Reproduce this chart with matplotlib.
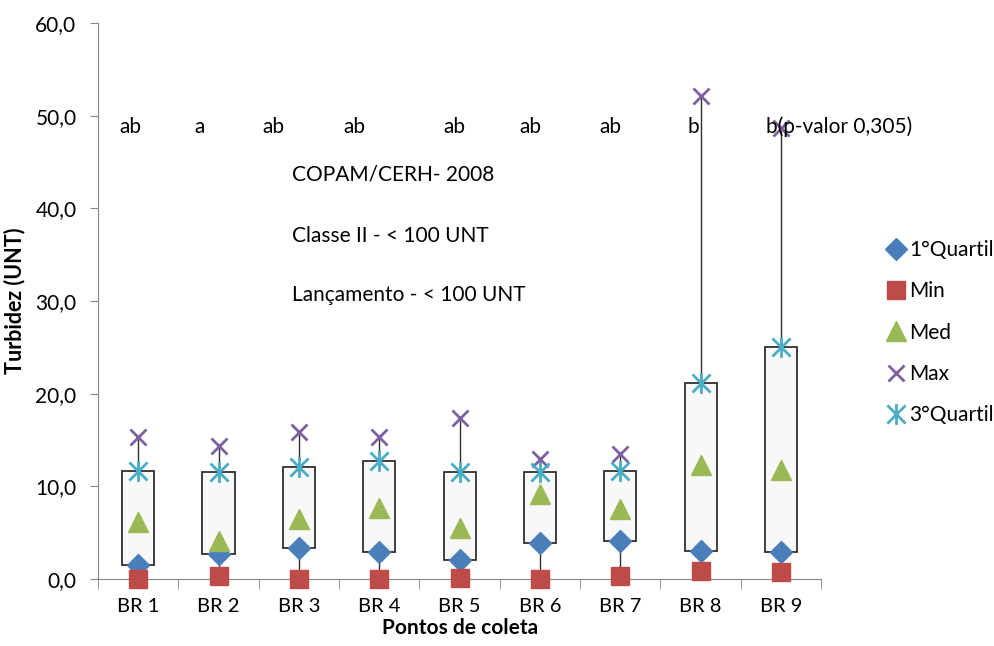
import numpy as np
import matplotlib
matplotlib.use('Agg')
import matplotlib.pyplot as plt
from matplotlib.path import Path

plt.rcParams['font.family'] = ['Lato', 'DejaVu Sans']

pontos = ['BR 1', 'BR 2', 'BR 3', 'BR 4', 'BR 5', 'BR 6', 'BR 7', 'BR 8', 'BR 9']
q1 = np.array([1.5, 2.7, 3.3, 2.9, 2.1, 3.9, 4.1, 3.0, 2.9])
vmin = np.array([0.0, 0.3, 0.05, 0.0, 0.15, 0.05, 0.35, 0.9, 0.8])
med = np.array([6.2, 4.1, 6.5, 7.7, 5.5, 9.2, 7.6, 12.3, 11.8])
vmax = np.array([15.3, 14.3, 15.9, 15.3, 17.4, 13.0, 13.5, 52.1, 48.7])
q3 = np.array([11.7, 11.5, 12.1, 12.7, 11.5, 11.6, 11.7, 21.1, 25.0])
letras = ['ab', 'a', 'ab', 'ab', 'ab', 'ab', 'ab', 'b', 'b(p-valor 0,305)']
letras_x = [-0.1, 0.76, 1.68, 2.69, 3.93, 4.88, 5.88, 6.91, 7.81]

x = np.arange(len(pontos))

fig = plt.figure(figsize=(9.94, 6.46), dpi=100)
ax = fig.add_axes([0.0986, 0.1037, 0.7275, 0.8607])

# whiskers and boxes
ax.vlines(x, vmin, vmax, color='#303030', lw=1, zorder=1)
ax.bar(x, q3 - q1, bottom=q1, width=0.4, color='#f8f8f8', edgecolor='#303030', lw=1.3, zorder=2)

# asterisk marker like excel
star = Path([(0, -1), (0, 1), (-0.87, -0.87), (0.87, 0.87), (-0.87, 0.87), (0.87, -0.87)],
            [Path.MOVETO, Path.LINETO, Path.MOVETO, Path.LINETO, Path.MOVETO, Path.LINETO])

ax.plot(x, q1, 'D', color='#4a7ebb', ms=11, ls='none', label='1°Quartil', zorder=4, clip_on=False)
ax.plot(x, vmin, 's', color='#be4b48', ms=13, ls='none', label='Min', zorder=4, clip_on=False)
ax.plot(x, med, '^', color='#98b954', ms=14, ls='none', label='Med', zorder=4)
ax.plot(x, vmax, 'x', color='#7d60a0', ms=12, mew=2, ls='none', label='Max', zorder=4)
ax.plot(x, q3, marker=star, color='#4bacc6', ms=15, mew=2, ls='none', label='3°Quartil', zorder=4)

for xi, t in zip(letras_x, letras):
    ha = 'left' if len(t) > 2 else 'center'
    ax.text(xi, 48.8, t, ha=ha, va='center', fontsize=15, zorder=5)

ax.text(1.92, 43.7, 'COPAM/CERH- 2008', fontsize=15, va='center')
ax.text(1.92, 37.0, 'Classe II - < 100 UNT', fontsize=15, va='center')
ax.text(1.92, 30.7, 'Lançamento - < 100 UNT', fontsize=15, va='center')

ax.set_xlim(-0.5, len(pontos) - 0.5)
ax.set_ylim(0, 60)
ax.set_yticks(np.arange(0, 61, 10))
ax.set_yticklabels([('%.1f' % v).replace('.', ',') for v in np.arange(0, 61, 10)], fontsize=15)
ax.set_xticks(x)
ax.set_xticklabels(pontos, fontsize=14.5)
ax.set_xticks(np.arange(-0.5, len(pontos)), minor=True)
ax.tick_params(axis='x', which='major', length=0, pad=14)
ax.tick_params(axis='x', which='minor', length=7, color='#868686')
ax.tick_params(axis='y', length=6, color='#868686', pad=9.5)

for s in ['top', 'right']:
    ax.spines[s].set_visible(False)
for s in ['left', 'bottom']:
    ax.spines[s].set_color('#868686')

ax.set_ylabel('Turbidez (UNT)', fontsize=15.5, fontweight='bold', labelpad=7)
ax.set_xlabel('Pontos de coleta', fontsize=15, fontweight='bold', labelpad=2)

fig.legend(loc='upper left', bbox_to_anchor=(0.883, 0.641), frameon=False, fontsize=15,
           handletextpad=0.1, handlelength=1.0, labelspacing=1.02, borderaxespad=0)

fig.savefig('out.png', dpi=100)
